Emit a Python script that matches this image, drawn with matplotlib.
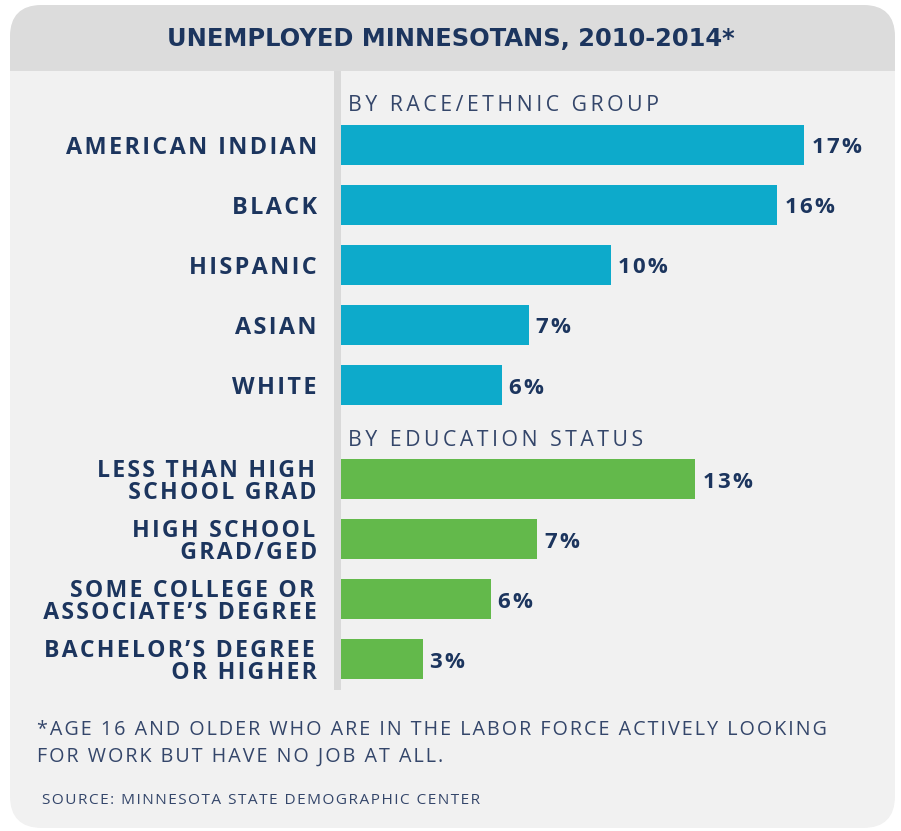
import matplotlib.pyplot as plt
from matplotlib.patches import FancyBboxPatch, Rectangle
import numpy as np

# данные
race_groups = ['AMERICAN INDIAN', 'BLACK', 'HISPANIC', 'ASIAN', 'WHITE']
race_values = [17.0, 16.0, 9.9, 6.9, 5.9]
race_labels = ['17%', '16%', '10%', '7%', '6%']

edu_groups = ['LESS THAN HIGH\nSCHOOL GRAD', 'HIGH SCHOOL\nGRAD/GED',
              'SOME COLLEGE OR\nASSOCIATE\u2019S DEGREE', 'BACHELOR\u2019S DEGREE\nOR HIGHER']
edu_values = [13.0, 7.2, 5.5, 3.0]
edu_labels = ['13%', '7%', '6%', '3%']

title = 'UNEMPLOYED MINNESOTANS, 2010-2014*'
note1 = '*AGE 16 AND OLDER WHO ARE IN THE LABOR FORCE ACTIVELY LOOKING'
note2 = 'FOR WORK BUT HAVE NO JOB AT ALL.'
source = 'SOURCE: MINNESOTA STATE DEMOGRAPHIC CENTER'

NAVY = '#1c355e'
BLUE = '#0daacb'
GREEN = '#63b94b'
GREY_TEXT = '#34466a'

W, H = 901, 831
fig = plt.figure(figsize=(W / 100, H / 100), dpi=100)
fig.patch.set_facecolor('white')


def spaced(s, sp='\u200a'):
    # разрядка букв
    return sp.join(s)


thin = dict(family=['Open Sans', 'DejaVu Sans'], weight='normal')
heavy = dict(family=['Open Sans', 'DejaVu Sans'], weight='bold', color=NAVY)

# фон в пикселях
bg = fig.add_axes([0, 0, 1, 1])
bg.set_xlim(0, W)
bg.set_ylim(H, 0)
bg.axis('off')
bg.add_patch(FancyBboxPatch((10, 5), 885, 823, boxstyle='round,pad=0,rounding_size=32',
                            fc='#f1f1f1', ec='none'))
bg.add_patch(FancyBboxPatch((10, 5), 885, 110, boxstyle='round,pad=0,rounding_size=32',
                            fc='#dcdcdc', ec='none'))
bg.add_patch(Rectangle((10, 71), 885, 50, fc='#f1f1f1', ec='none'))
bg.add_patch(Rectangle((333.5, 71), 7, 619, fc='#d9d9d9', ec='none'))

bg.text(451, 39, title, ha='center', va='center', fontsize=17.4, weight='bold', color=NAVY)
bg.text(37, 735, spaced(note1), va='baseline', fontsize=14.2, color=GREY_TEXT, **thin)
bg.text(37, 762, spaced(note2), va='baseline', fontsize=14.2, color=GREY_TEXT, **thin)
bg.text(42, 804, spaced(source), va='baseline', fontsize=11.1, color=GREY_TEXT, **thin)

# столбцы
ax = fig.add_axes([340.7 / W, 1 - 690 / H, 545.4 / W, 619 / H])
ax.set_xlim(0, 20)
ax.set_ylim(9.083, -1.233)
ax.axis('off')
ax.patch.set_alpha(0)

race_y = np.arange(len(race_groups))
edu_y = np.arange(len(edu_groups)) + 5.57

ax.barh(race_y, race_values, height=0.66, color=BLUE)
ax.barh(edu_y, edu_values, height=0.66, color=GREEN)

dy = 0.05  # сдвиг подписей вниз
for y, v, lab, name in zip(race_y, race_values, race_labels, race_groups):
    ax.text(v + 0.28, y + dy, spaced(lab), ha='left', va='center', fontsize=16, **heavy)
    ax.text(-0.87, y + dy, spaced(name), ha='right', va='center', fontsize=16.8, **heavy)

for y, v, lab, name in zip(edu_y, edu_values, edu_labels, edu_groups):
    ax.text(v + 0.28, y + dy, spaced(lab), ha='left', va='center', fontsize=16, **heavy)
    ax.text(-0.87, y + dy, spaced(name), ha='right', va='center', fontsize=16.6,
            multialignment='right', linespacing=0.9, **heavy)

ax.text(0.27, -0.70 + dy, spaced('BY RACE/ETHNIC GROUP', '\u2009'), ha='left', va='center',
        fontsize=15.3, color=GREY_TEXT, **thin)
ax.text(0.27, 4.875 + dy, spaced('BY EDUCATION STATUS', '\u2009'), ha='left', va='center',
        fontsize=15.3, color=GREY_TEXT, **thin)

fig.savefig('out.png', dpi=100)
